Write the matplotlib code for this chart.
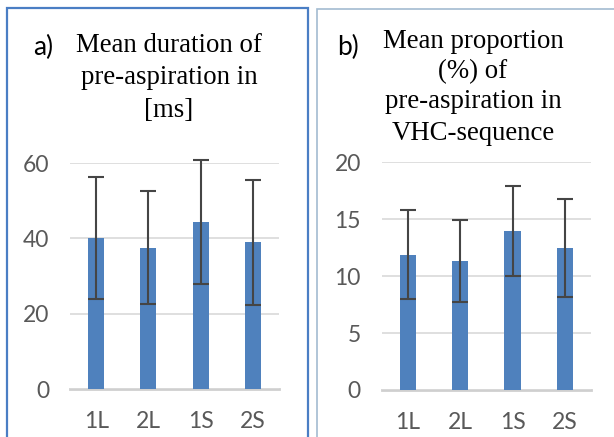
import matplotlib
matplotlib.use("Agg")
import matplotlib.pyplot as plt
from matplotlib.patches import Rectangle

# data
categories = ["1L", "2L", "1S", "2S"]
duration_ms = [40.1, 37.5, 44.4, 38.9]
duration_err = [16.3, 15.0, 16.4, 16.7]
proportion_pct = [11.9, 11.3, 14.0, 12.5]
proportion_err = [3.9, 3.6, 3.95, 4.3]
duration_ticks = [0, 20, 40, 60]
proportion_ticks = [0, 5, 10, 15, 20]

W, H = 614, 437
BAR = "#4f81bd"
ERR = "#454545"
GRID = "#d9d9d9"
TICK = "#595959"
TICKFONT = "Lato"
SERIF = "Liberation Serif"

fig = plt.figure(figsize=(W / 100, H / 100), dpi=100)


def px_axes(x0, x1, ytop, ybot):
    # pixel box (origin at top left) -> figure axes
    return fig.add_axes([x0 / W, (H - ybot) / H, (x1 - x0) / W, (ybot - ytop) / H])


def bar_panel(ax, vals, errs, ticks):
    xs = range(len(categories))
    ax.bar(xs, vals, width=0.31, color=BAR, zorder=2)
    ax.errorbar(xs, vals, yerr=errs, fmt="none", ecolor=ERR, elinewidth=1.5,
                capsize=5.5, capthick=1.5, zorder=3, clip_on=False)
    ax.set_xlim(-0.5, len(categories) - 0.5)
    ax.set_ylim(ticks[0], ticks[-1])
    ax.set_yticks(ticks)
    ax.set_xticks(list(xs))
    ax.set_xticklabels(categories)
    for s in ax.spines.values():
        s.set_visible(False)
    ax.grid(axis="y", color=GRID, lw=1.2, zorder=0)
    ax.axhline(0, color="#cfcfcf", lw=2, zorder=1, clip_on=False)
    ax.tick_params(length=0, labelsize=16.5, labelcolor=TICK)
    ax.tick_params(axis="y", pad=15)
    ax.tick_params(axis="x", pad=16)
    for lab in ax.get_xticklabels() + ax.get_yticklabels():
        lab.set_fontfamily(TICKFONT)
    ax.set_facecolor("none")


# panel a
ax1 = px_axes(70, 279, 163, 389)
bar_panel(ax1, duration_ms, duration_err, duration_ticks)

# panel b
ax2 = px_axes(381.7, 591, 162.3, 390)
bar_panel(ax2, proportion_pct, proportion_err, proportion_ticks)

# panel borders
fig.add_artist(Rectangle((7 / W, -0.02), 301 / W, (H - 8) / H + 0.02,
                         transform=fig.transFigure, fill=False,
                         edgecolor="#4a7ec4", lw=1.6))
fig.add_artist(Rectangle((316.5 / W, -0.02), 0.6, (H - 8.5) / H + 0.02,
                         transform=fig.transFigure, fill=False,
                         edgecolor="#a3bbd1", lw=1.2))

# titles
def fig_text(x, y, s, **kw):
    fig.text(x / W, 1 - y / H, s, ha="center", va="center", **kw)


fig_text(43, 47, "a)", fontsize=19, family=TICKFONT, color="black")
for y, line in zip([46, 78, 110], ["Mean duration of", "pre-aspiration in", "[ms]"]):
    fig_text(169, y, line, fontsize=19.3, family=SERIF)

fig_text(348, 47, "b)", fontsize=19, family=TICKFONT, color="black")
for y, line in zip([42, 72, 102, 133],
                   ["Mean proportion", "(%) of", "pre-aspiration in", "VHC-sequence"]):
    fig_text(473, y, line, fontsize=19.3, family=SERIF)

fig.savefig("out.png", dpi=100)
